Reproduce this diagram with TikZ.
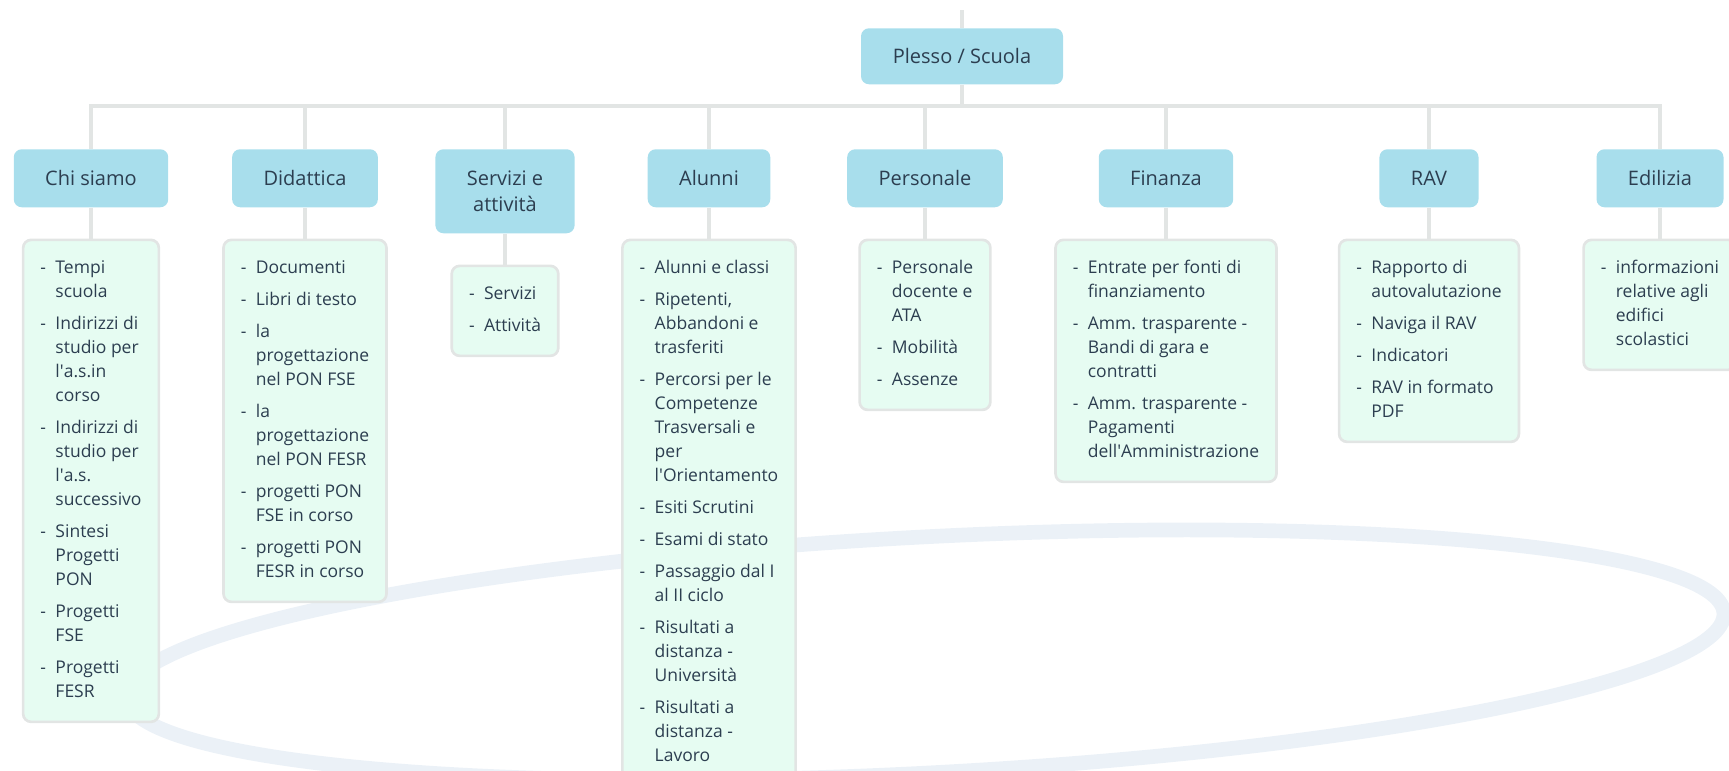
\documentclass[tikz,border=0pt]{standalone}
\usepackage{fontspec}
\setmainfont{Open Sans}
\usepackage{tikz}
\usetikzlibrary{positioning}
\definecolor{headblue}{RGB}{168,222,236}
\definecolor{mint}{RGB}{230,252,242}
\definecolor{edgegrey}{RGB}{226,229,228}
\definecolor{inkslate}{RGB}{44,62,80}
\definecolor{ringblue}{RGB}{235,241,247}
\newcommand{\bodyfont}{\fontsize{13.125pt}{18pt}\selectfont}
\newcommand{\headfont}{\fontsize{15pt}{19.5pt}\selectfont}
\newcommand{\dash}{\makebox[11.25pt][l]{-}}
\newcommand{\ap}{\textquotesingle}

\begin{document}
\begin{tikzpicture}[
        x=0.75pt, y=-0.75pt,
        node distance=23.25pt,
        head/.style={rectangle, fill=headblue, rounded corners=6pt, minimum height=43.5pt, inner xsep=23.6pt, align=center, text=inkslate, font=\headfont},
        list/.style={rectangle, draw=edgegrey, line width=2pt, fill=mint, rounded corners=6pt, inner xsep=13pt, inner ysep=12.75pt, text=inkslate, font=\bodyfont},
        link/.style={draw=edgegrey, line width=3pt},
        ring/.style={draw=ringblue, line width=11pt}
    ]
        \useasboundingbox (0,0) rectangle (1729,771);

        % Background ring
        \draw[ring, rotate around={3:(925,655)}] (925,655) ellipse [x radius=800, y radius=118];

        % Root
        \node[head, anchor=north, minimum width=151.5pt, minimum height=42pt] (root) at (962,28) {Plesso / Scuola};

        % Sections
        \node[head, anchor=north] (chi) at (91,149) {Chi siamo};
        \node[head, anchor=north] (didattica) at (305,149) {Didattica};
        \node[head, anchor=north, minimum height=63pt] (servizi) at (505,149) {Servizi e\\attività};
        \node[head, anchor=north] (alunni) at (709,149) {Alunni};
        \node[head, anchor=north] (personale) at (925,149) {Personale};
        \node[head, anchor=north] (finanza) at (1166,149) {Finanza};
        \node[head, anchor=north] (rav) at (1429,149) {RAV};
        \node[head, anchor=north] (edilizia) at (1660,149) {Edilizia};

        % Lists
        \node[list, below=of chi] (chi-list) {\begin{tabular}{@{}l@{}l@{}}
            \dash & Tempi\\ & scuola\\[6pt]
            \dash & Indirizzi di\\ & studio per\\ & l\ap a.s.in\\ & corso\\[6pt]
            \dash & Indirizzi di\\ & studio per\\ & l\ap a.s.\\ & successivo\\[6pt]
            \dash & Sintesi\\ & Progetti\\ & PON\\[6pt]
            \dash & Progetti\\ & FSE\\[6pt]
            \dash & Progetti\\ & FESR
        \end{tabular}};
        \node[list, below=of didattica] (didattica-list) {\begin{tabular}{@{}l@{}l@{}}
            \dash & Documenti\\[6pt]
            \dash & Libri di testo\\[6pt]
            \dash & la\\ & progettazione\\ & nel PON FSE\\[6pt]
            \dash & la\\ & progettazione\\ & nel PON FESR\\[6pt]
            \dash & progetti PON\\ & FSE in corso\\[6pt]
            \dash & progetti PON\\ & FESR in corso
        \end{tabular}};
        \node[list, below=of servizi] (servizi-list) {\begin{tabular}{@{}l@{}l@{}}
            \dash & Servizi\\[6pt]
            \dash & Attività
        \end{tabular}};
        \node[list, below=of alunni] (alunni-list) {\begin{tabular}{@{}l@{}l@{}}
            \dash & Alunni e classi\\[6pt]
            \dash & Ripetenti,\\ & Abbandoni e\\ & trasferiti\\[6pt]
            \dash & Percorsi per le\\ & Competenze\\ & Trasversali e\\ & per\\ & l\ap Orientamento\\[6pt]
            \dash & Esiti Scrutini\\[6pt]
            \dash & Esami di stato\\[6pt]
            \dash & Passaggio dal I\\ & al II ciclo\\[6pt]
            \dash & Risultati a\\ & distanza -\\ & Università\\[6pt]
            \dash & Risultati a\\ & distanza -\\ & Lavoro
        \end{tabular}};
        \node[list, below=of personale] (personale-list) {\begin{tabular}{@{}l@{}l@{}}
            \dash & Personale\\ & docente e\\ & ATA\\[6pt]
            \dash & Mobilità\\[6pt]
            \dash & Assenze
        \end{tabular}};
        \node[list, below=of finanza] (finanza-list) {\begin{tabular}{@{}l@{}l@{}}
            \dash & Entrate per fonti di\\ & finanziamento\\[6pt]
            \dash & Amm. trasparente -\\ & Bandi di gara e\\ & contratti\\[6pt]
            \dash & Amm. trasparente -\\ & Pagamenti\\ & dell\ap Amministrazione
        \end{tabular}};
        \node[list, below=of rav] (rav-list) {\begin{tabular}{@{}l@{}l@{}}
            \dash & Rapporto di\\ & autovalutazione\\[6pt]
            \dash & Naviga il RAV\\[6pt]
            \dash & Indicatori\\[6pt]
            \dash & RAV in formato\\ & PDF
        \end{tabular}};
        \node[list, below=of edilizia] (edilizia-list) {\begin{tabular}{@{}l@{}l@{}}
            \dash & informazioni\\ & relative agli\\ & edifici\\ & scolastici
        \end{tabular}};

        % Links
        \coordinate (top) at (962,10);
        \coordinate (bar) at (962,106);
        \draw[link] (top) -- (root);
        \draw[link] (root) -- (bar);
        \foreach \h in {chi, didattica, servizi, alunni, personale, finanza, rav, edilizia} {
            \draw[link] (bar) -| (\h.north);
            \draw[link] (\h) -- (\h-list);
        }
    \end{tikzpicture}
\end{document}
